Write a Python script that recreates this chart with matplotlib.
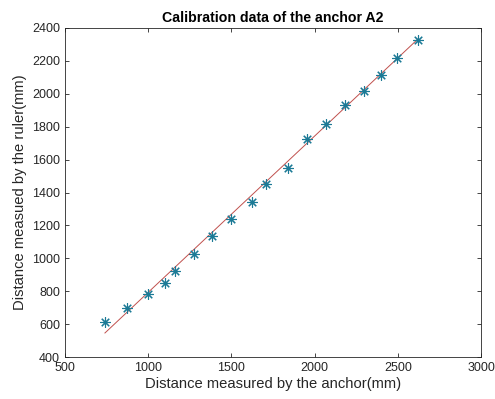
import numpy as np
import matplotlib.pyplot as plt

plt.rcParams['font.family'] = ['Liberation Sans', 'DejaVu Sans']

# anchor readings vs ruler readings (mm)
anchor_mm = [740, 875, 1000, 1100, 1160, 1275, 1385, 1500, 1625, 1705,
             1840, 1955, 2070, 2185, 2295, 2400, 2495, 2620]
ruler_mm = [615, 700, 785, 850, 920, 1025, 1135, 1240, 1345, 1450,
            1550, 1725, 1815, 1930, 2020, 2115, 2220, 2325]

# linear calibration fit
fit_slope = 0.95
fit_intercept = -157

fig = plt.figure(figsize=(4.95, 3.99), dpi=100)
ax = fig.add_axes([65 / 495, 1 - 357 / 399, 416 / 495, 329 / 399])

xs = np.array([anchor_mm[0], anchor_mm[-1]])
ax.plot(xs, fit_slope * xs + fit_intercept, color='#c0504d', lw=0.7)
ax.plot(anchor_mm, ruler_mm, linestyle='none', marker=(8, 2, 0),
        markersize=7.5, markeredgewidth=0.8, color='#1c7a96')

ax.set_xlim(500, 3000)
ax.set_ylim(400, 2400)
ax.set_xticks(np.arange(500, 3001, 500))
ax.set_yticks(np.arange(400, 2401, 200))
ax.tick_params(direction='in', top=True, right=True, labelsize=9,
               length=3, width=0.6, colors='#262626')
for s in ax.spines.values():
    s.set_linewidth(0.6)
    s.set_color('#262626')

ax.set_title('Calibration data of the anchor A2', fontsize=10.2,
             fontweight='bold', pad=4)
ax.set_xlabel('Distance measured by the anchor(mm)', fontsize=10.6,
              color='#262626', labelpad=2)
ax.set_ylabel('Distance measued by the ruler(mm)', fontsize=10.6,
              color='#262626', labelpad=4)

fig.savefig('out.png', dpi=100)
